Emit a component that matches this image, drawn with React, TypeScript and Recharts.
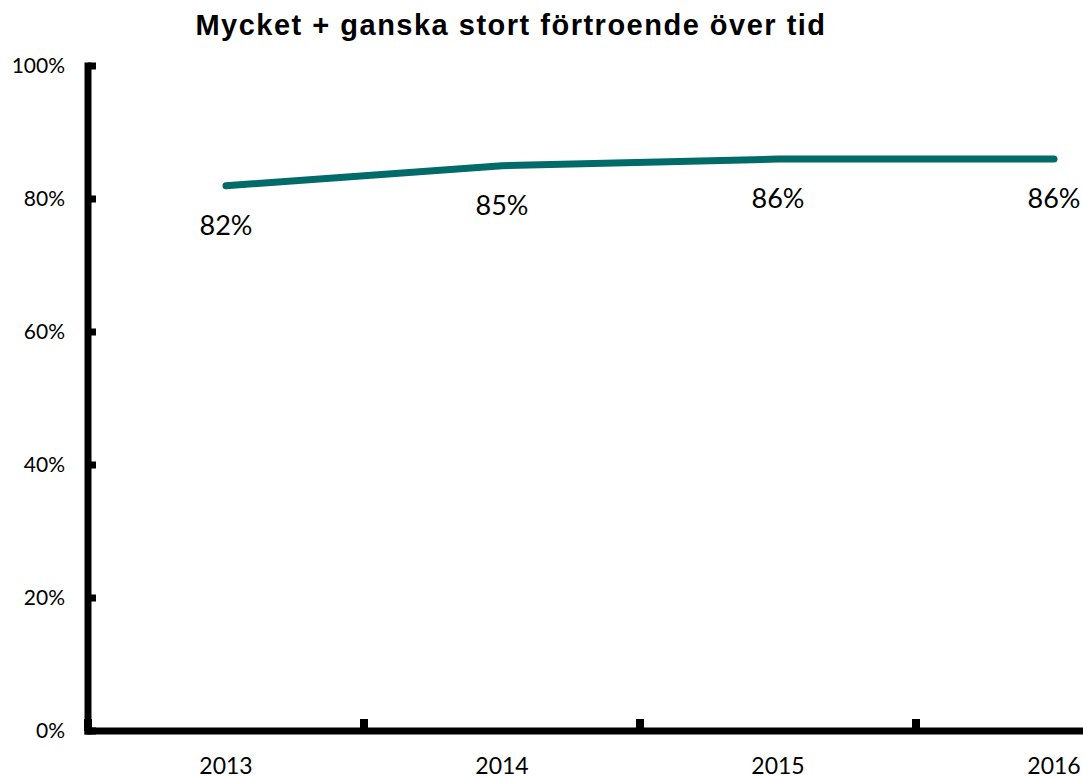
import { LineChart, Line, XAxis, YAxis, LabelList } from "recharts";

const years = ["2013", "2014", "2015", "2016"];
const trust = [82, 85, 86, 86];
const yTicks = [0, 20, 40, 60, 80, 100];
const title = "Mycket + ganska stort förtroende över tid";

const data = years.map((year, i) => ({ idx: i, year, value: trust[i] }));

// ticks at category centres (labels) and between categories (tick marks)
const xTicks = [-0.5, 0, 0.5, 1, 1.5, 2, 2.5, 3, 3.5];

const teal = "#006B68";

function YearTick(props: any) {
  const { x, y, payload } = props;
  const v = payload.value;
  if (Number.isInteger(v)) {
    return (
      <text x={x} y={y + 43} textAnchor="middle" fontSize={23} fontFamily="Lato" fill="#000">
        {years[v]}
      </text>
    );
  }
  return <line x1={x} x2={x} y1={y} y2={y - 12} stroke="#000" strokeWidth={8} />;
}

export default function App() {
  return (
    <div
      style={{
        position: "fixed",
        top: 0,
        left: 0,
        width: 1083,
        height: 777,
        overflow: "hidden",
        background: "#fff",
      }}
    >
      <div
        style={{
          position: "absolute",
          top: 9,
          left: 0,
          width: 1022,
          textAlign: "center",
          fontFamily: "Liberation Sans",
          fontWeight: "bold",
          fontSize: 29,
          letterSpacing: 1.5,
          whiteSpace: "nowrap",
          lineHeight: "normal",
          color: "#000",
        }}
      >
        {title}
      </div>
      <LineChart width={1208} height={777} data={data} margin={{ top: 66, right: 16, bottom: 0, left: 8 }}>
        <XAxis
          dataKey="idx"
          type="number"
          domain={[-0.5, 3.5]}
          ticks={xTicks}
          interval={0}
          axisLine={{ stroke: "#000", strokeWidth: 7, strokeLinecap: "square" }}
          tickLine={false}
          tickSize={0}
          tickMargin={0}
          tick={<YearTick />}
          height={46}
          allowDataOverflow
        />
        <YAxis
          type="number"
          domain={[0, 100]}
          ticks={yTicks}
          interval={0}
          width={80}
          axisLine={{ stroke: "#000", strokeWidth: 7, strokeLinecap: "square" }}
          tickLine={{ stroke: "#000", strokeWidth: 7 }}
          tickSize={-8}
          tickMargin={31}
          tickFormatter={(v: number) => `${v}%`}
          tick={{ fontSize: 21, fontFamily: "Lato", fill: "#000" }}
        />
        <Line
          dataKey="value"
          type="linear"
          stroke={teal}
          strokeWidth={7}
          strokeLinecap="round"
          dot={false}
          isAnimationActive={false}
        >
          <LabelList
            dataKey="value"
            position="bottom"
            offset={30}
            formatter={(v: any) => `${v}%`}
            style={{ fontSize: 27, fontFamily: "Lato", fill: "#000" }}
          />
        </Line>
      </LineChart>
    </div>
  );
}
